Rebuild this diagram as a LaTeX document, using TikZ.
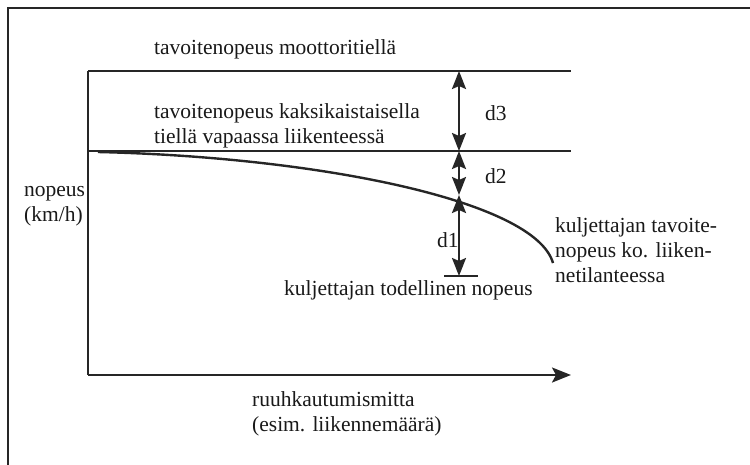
\documentclass[tikz,border=0pt]{standalone}
\usepackage{fontspec}
\setmainfont{Liberation Serif}
\usetikzlibrary{arrows.meta}
\tikzset{
  x=1pt, y=-1pt,
  line/.style={line width=2.4pt, draw=black!85},
  lbl/.style={font=\fontsize{21.5}{25}\selectfont, inner sep=0pt, anchor=west, align=left, text=black!90},
  dim/.style={line width=2.4pt, draw=black!85, {Stealth[length=18pt,width=14pt,inset=3pt]}-{Stealth[length=18pt,width=14pt,inset=3pt]}},
  axarrow/.style={line width=2.4pt, draw=black!85, -{Stealth[length=19pt,width=15pt,inset=4pt]}}
}
\begin{document}
\begin{tikzpicture}
\useasboundingbox (0,0) rectangle (750,464);
% frame
\draw[line width=2.8pt, draw=black!85] (8,470) -- (8,8) -- (760,8);
% coordinates
\coordinate (ytop) at (88,71);
\coordinate (orig) at (88,375);
\coordinate (xend) at (571,375);
\coordinate (l1end) at (571,71);
\coordinate (l2start) at (88,151);
\coordinate (l2end) at (571,151);
\coordinate (cstart) at (98,152);
\coordinate (cend) at (553,263);
\coordinate (a3top) at (459,71);
\coordinate (a3bot) at (459,151);
\coordinate (a2bot) at (459,195);
\coordinate (a1bot) at (459,276);
\coordinate (barL) at (444,276);
\coordinate (barR) at (478,276);
% axes and lines
\draw[line] (ytop) -- (l1end);
\draw[line] (l2start) -- (l2end);
\draw[line] (ytop) -- (orig);
\draw[axarrow] (orig) -- (xend);
% curve
\draw[line] (cstart) .. controls (315,157) and (535,200) .. (cend);
% dimension arrows
\draw[dim] (a3top) -- (a3bot);
\draw[dim] (a3bot) -- (a2bot);
\draw[dim] (a2bot) -- (a1bot);
\draw[line] (barL) -- (barR);
% labels
\node[lbl] (tmoto) at (154,49) {tavoitenopeus moottoritiellä};
\node[lbl] (tkaksi) at (154,125.5) {tavoitenopeus kaksikaistaisella\\tiellä vapaassa liikenteessä};
\node[lbl] (d3) at (485,113) {d3};
\node[lbl] (d2) at (485,176) {d2};
\node[lbl] (d1) at (437,240) {d1};
\node[lbl] (todel) at (284,290) {kuljettajan todellinen nopeus};
\node[lbl] (tavo) at (555,250.5) {kuljettajan tavoite-\\nopeus ko. liiken-\\netilanteessa};
\node[lbl] (ylab) at (24,206) {nopeus\\(km/h)};
\node[lbl] (xlab) at (252,413.5) {ruuhkautumismitta\\(esim. liikennemäärä)};
\end{tikzpicture}
\end{document}
